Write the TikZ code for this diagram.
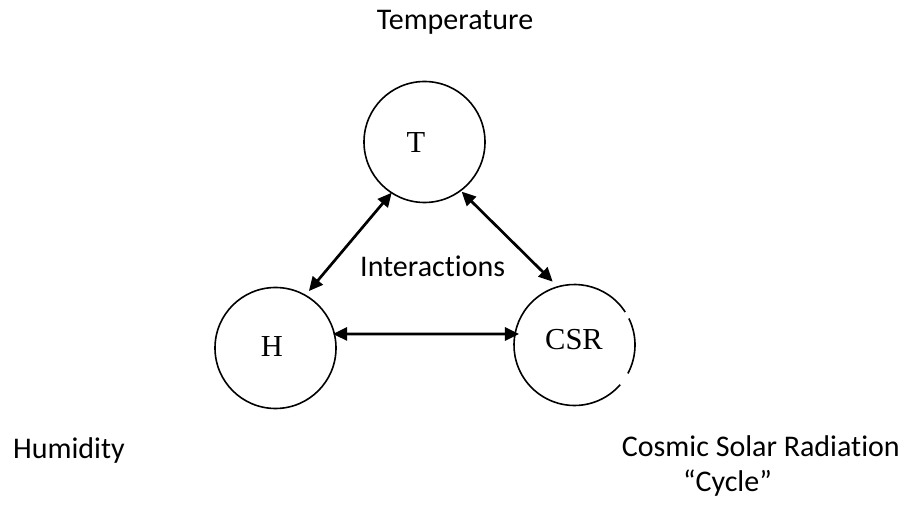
\documentclass[tikz,border=0pt]{standalone}
\usepackage{fontspec}
\setmainfont{Liberation Serif}
\newfontfamily\calib[Ligatures=NoCommon]{Carlito}
\usetikzlibrary{arrows.meta,calc}
\begin{document}
\begin{tikzpicture}[x=1pt,y=1pt,
  ring/.style={circle,draw,line width=1.6pt,minimum size=121pt,inner sep=0pt},
  ringnd/.style={circle,minimum size=121pt,inner sep=0pt},
  lettr/.style={font=\fontsize{30.5}{36}\selectfont,inner sep=0pt,anchor=base},
  lbl/.style={font=\calib\fontsize{30}{36.6}\selectfont,inner sep=0pt},
  link/.style={line width=2.7pt,{Triangle[length=14pt,width=13pt]}-{Triangle[length=14pt,width=13pt]}}]
\useasboundingbox (0,0) rectangle (906,506);
\fill[white] (0,0) rectangle (906,506);
% circles
\node[ring] (T) at (424.5,364) {};
\node[ring] (H) at (275.5,158) {};
\node[ringnd] (CSR) at (574.5,161) {};
\draw[line width=1.6pt] ($(CSR)+(33:60.5pt)$) arc[start angle=33,end angle=319,radius=60.5pt];
\draw[line width=1.6pt] ($(CSR)+(-28:60.5pt)$) arc[start angle=-28,end angle=26,radius=60.5pt];
% letters
\node[lettr] (Tl) at (416,353) {T};
\node[lettr] (Hl) at (272,149) {H};
\node[lettr] (Cl) at (574,156) {CSR};
% labels
\node[lbl,anchor=base] (temp) at (455,476) {Temperature};
\node[lbl,anchor=base west] (inter) at (360,229) {Interactions};
\node[lbl,anchor=base west] (hum) at (13,47) {Humidity};
\node[lbl,anchor=base east] (cosm) at (900,49) {Cosmic Solar Radiation};
\node[lbl,anchor=base east] (cyc) at (772,14) {\char"201C Cycle\char"201D};
% connector end points
\coordinate (th1) at ($(T)+(237.1:60.4pt)$);
\coordinate (th2) at ($(H)+(59.6:66pt)$);
\coordinate (tc1) at ($(T)+(-53.2:62pt)$);
\coordinate (tc2) at ($(CSR)+(109:67pt)$);
\coordinate (hc1) at ($(H)+(13.7:59.2pt)$);
\coordinate (hc2) at ($(CSR)+(168.8:56.6pt)$);
\draw[link] (th1) -- (th2);
\draw[link] (tc1) -- (tc2);
\draw[link] (hc1) -- (hc2);
\end{tikzpicture}
\end{document}
